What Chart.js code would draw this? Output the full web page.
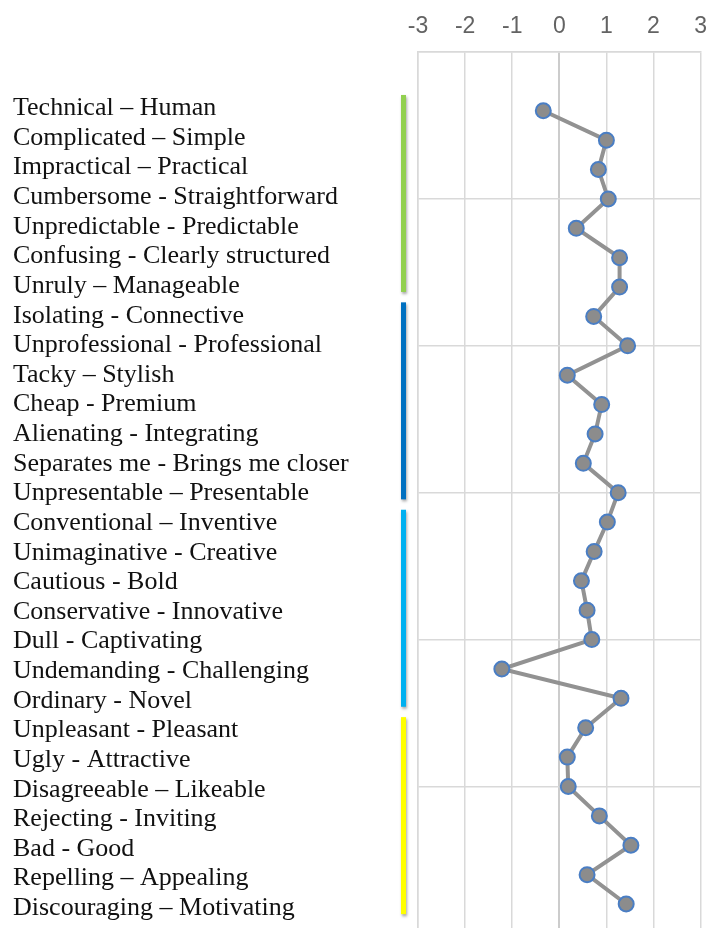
<!DOCTYPE html>
<html lang="en">
<head>
  <meta charset="UTF-8">
  <title>Semantic differential</title>
  <script src="https://cdn.jsdelivr.net/npm/chart.js"></script>
  <style>
    html, body { margin: 0; padding: 0; background: #fff; overflow: hidden; }
    .wrap { position: relative; width: 719px; height: 952px; }
  </style>
</head>
<body>
  <div class="wrap"><canvas id="diffChart"></canvas></div>
  <script>
// word pairs, top to bottom
const pairs = [
  'Technical – Human', 'Complicated – Simple', 'Impractical – Practical',
  'Cumbersome - Straightforward', 'Unpredictable - Predictable',
  'Confusing - Clearly structured', 'Unruly – Manageable',
  'Isolating - Connective', 'Unprofessional - Professional', 'Tacky – Stylish',
  'Cheap - Premium', 'Alienating - Integrating', 'Separates me - Brings me closer',
  'Unpresentable – Presentable',
  'Conventional – Inventive', 'Unimaginative - Creative', 'Cautious - Bold',
  'Conservative - Innovative', 'Dull - Captivating', 'Undemanding - Challenging',
  'Ordinary - Novel',
  'Unpleasant - Pleasant', 'Ugly - Attractive', 'Disagreeable – Likeable',
  'Rejecting - Inviting', 'Bad - Good', 'Repelling – Appealing',
  'Discouraging – Motivating'
];

// mean scores
const scores = [
  -0.34, 1.00, 0.83, 1.04, 0.36, 1.28, 1.28,
  0.73, 1.45, 0.17, 0.90, 0.76, 0.51, 1.25,
  1.02, 0.74, 0.47, 0.59, 0.69, -1.22, 1.31,
  0.56, 0.17, 0.19, 0.85, 1.52, 0.59, 1.42
];

const xTicks = [-3, -2, -1, 0, 1, 2, 3];

// group sizes and colours for the bars beside the labels
const groupSizes = [7, 7, 7, 7];
const groupColors = ['#92d050', '#0070c0', '#00b0f0', '#ffff00'];

const rowVal = i => i + 2; // row i sits on y value i+2 (axis 0..30)

const groupBars = {
  id: 'groupBars',
  afterDraw(chart) {
    const ctx = chart.ctx;
    const y = chart.scales.yl;
    let first = 0;
    ctx.save();
    ctx.shadowColor = 'rgba(0,0,0,0.35)';
    ctx.shadowBlur = 3;
    ctx.shadowOffsetX = 1;
    ctx.shadowOffsetY = 2;
    groupSizes.forEach((n, g) => {
      const last = first + n - 1;
      const top = y.getPixelForValue(first + 1.9 - 0.45);
      const bot = y.getPixelForValue(last + 1.9 + 0.2);
      ctx.fillStyle = groupColors[g];
      ctx.fillRect(401, top, 5, bot - top);
      first += n;
    });
    ctx.restore();
  }
};

new Chart(document.getElementById('diffChart'), {
  type: 'line',
  data: {
    datasets: [{
      data: scores.map((v, i) => ({ x: v, y: rowVal(i) })),
      borderColor: '#929292',
      borderWidth: 4,
      pointRadius: 7.5,
      pointHoverRadius: 7.5,
      pointBackgroundColor: '#8c8c8c',
      pointBorderColor: '#4a7ec4',
      pointBorderWidth: 2,
      tension: 0
    }]
  },
  options: {
    responsive: true,
    maintainAspectRatio: false,
    animation: false,
    layout: { padding: { left: 13, right: 0, top: 0, bottom: 0 } },
    plugins: { legend: { display: false }, tooltip: { enabled: false } },
    scales: {
      x: {
        type: 'linear',
        position: 'top',
        min: -3,
        max: 3,
        afterBuildTicks: s => { s.ticks = xTicks.map(v => ({ value: v })); },
        ticks: {
          color: '#636363',
          font: { family: 'Liberation Sans, Arial', size: 23 },
          padding: 12
        },
        grid: {
          color: ctx => ctx.tick && ctx.tick.value === 0 ? '#cccccc' : '#d9d9d9',
          lineWidth: ctx => ctx.tick && ctx.tick.value === 0 ? 2 : 1.5,
          drawTicks: false
        },
        border: { color: '#d9d9d9', width: 1.5 },
        afterFit: s => { s.height = 52; }
      },
      y: {
        type: 'linear',
        reverse: true,
        min: 0,
        max: 30,
        ticks: { display: false, stepSize: 5 },
        grid: { color: '#d9d9d9', lineWidth: 1.5, drawTicks: false },
        border: { color: '#d9d9d9', width: 1.5 },
        afterFit: s => { s.width = 0; }
      },
      // text column: rows are spaced a touch wider than the points
      yl: {
        type: 'linear',
        position: 'left',
        reverse: true,
        min: 0,
        max: 29.75,
        afterBuildTicks: s => { s.ticks = pairs.map((p, i) => ({ value: i + 1.9, label: p })); },
        ticks: {
          autoSkip: false,
          crossAlign: 'far',
          color: '#111',
          font: { family: 'Liberation Serif, Times New Roman', size: 26 },
          callback: (v, i) => pairs[i]
        },
        grid: { display: false },
        border: { display: false },
        afterFit: s => { s.width = 405; }
      }
    }
  },
  plugins: [groupBars]
});
  </script>
</body>
</html>
